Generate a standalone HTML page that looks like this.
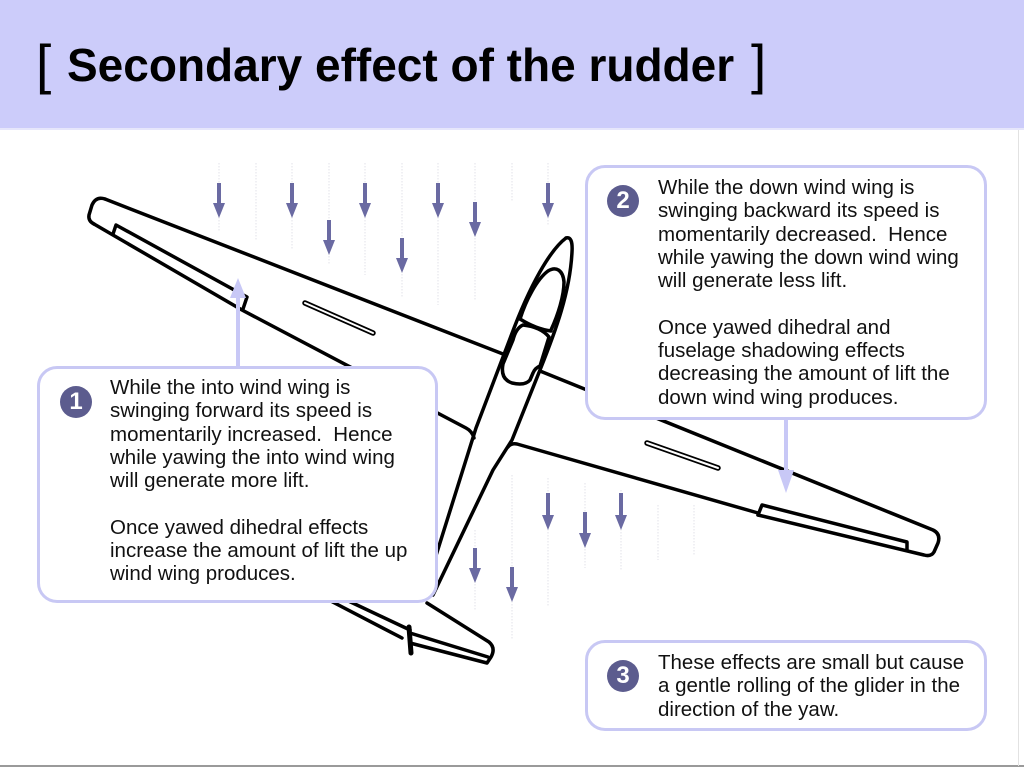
<!DOCTYPE html>
<html><head><meta charset="utf-8">
<style>
html,body{margin:0;padding:0;}
body{width:1024px;height:768px;position:relative;overflow:hidden;background:#fff;font-family:"Liberation Sans",Arial,sans-serif;}
.hdr{position:absolute;left:0;top:0;width:1024px;height:128px;background:#ccccfa;border-bottom:2px solid #e6e6fb;}
.title{position:absolute;left:67px;top:39px;font-size:46px;line-height:52px;font-weight:bold;color:#000;white-space:nowrap;}
.br{position:absolute;top:34px;font-size:55px;line-height:60px;color:#000;}
.box{position:absolute;background:#fff;border:3px solid #c8c8f4;border-radius:20px;box-sizing:border-box;}
.txt{position:absolute;font-size:20.5px;line-height:23.3px;white-space:nowrap;color:#111;}
.badge{position:absolute;width:32px;height:32px;border-radius:50%;background:#5c5c8e;color:#fff;font-weight:bold;font-size:24px;line-height:32px;text-align:center;}
svg{position:absolute;left:0;top:0;}
</style></head>
<body>
<div class="hdr"></div>
<div class="br" style="left:36px;">[</div>
<div class="title">Secondary effect of the rudder</div>
<div class="br" style="left:751px;">]</div>

<svg width="1024" height="768" viewBox="0 0 1024 768">
 <!-- wind dotted lines -->
 <g stroke="#e2e2e8" stroke-width="1" stroke-dasharray="1.5,1.5">
  <line x1="219" y1="163" x2="219" y2="232"/>
  <line x1="256" y1="163" x2="256" y2="240"/>
  <line x1="292" y1="163" x2="292" y2="250"/>
  <line x1="329" y1="163" x2="329" y2="265"/>
  <line x1="365" y1="163" x2="365" y2="275"/>
  <line x1="402" y1="163" x2="402" y2="298"/>
  <line x1="438" y1="163" x2="438" y2="305"/>
  <line x1="475" y1="163" x2="475" y2="300"/>
  <line x1="512" y1="163" x2="512" y2="202"/>
  <line x1="548" y1="163" x2="548" y2="225"/>
  <line x1="475" y1="530" x2="475" y2="610"/>
  <line x1="512" y1="475" x2="512" y2="640"/>
  <line x1="548" y1="478" x2="548" y2="607"/>
  <line x1="585" y1="483" x2="585" y2="568"/>
  <line x1="621" y1="490" x2="621" y2="570"/>
  <line x1="658" y1="505" x2="658" y2="560"/>
  <line x1="694" y1="505" x2="694" y2="555"/>
 </g>
 <!-- wind arrows -->
 <g fill="#6a6aa2">
  <rect x="217" y="183" width="4" height="21"/><polygon points="213,203 225,203 219,218"/>
  <rect x="290" y="183" width="4" height="21"/><polygon points="286,203 298,203 292,218"/>
  <rect x="327" y="220" width="4" height="21"/><polygon points="323,240 335,240 329,255"/>
  <rect x="363" y="183" width="4" height="21"/><polygon points="359,203 371,203 365,218"/>
  <rect x="400" y="238" width="4" height="21"/><polygon points="396,258 408,258 402,273"/>
  <rect x="436" y="183" width="4" height="21"/><polygon points="432,203 444,203 438,218"/>
  <rect x="473" y="202" width="4" height="21"/><polygon points="469,222 481,222 475,237"/>
  <rect x="546" y="183" width="4" height="21"/><polygon points="542,203 554,203 548,218"/>
  <rect x="473" y="548" width="4" height="21"/><polygon points="469,568 481,568 475,583"/>
  <rect x="510" y="567" width="4" height="21"/><polygon points="506,587 518,587 512,602"/>
  <rect x="546" y="493" width="4" height="23"/><polygon points="542,515 554,515 548,530"/>
  <rect x="583" y="512" width="4" height="22"/><polygon points="579,533 591,533 585,548"/>
  <rect x="619" y="493" width="4" height="23"/><polygon points="615,515 627,515 621,530"/>
 </g>
 <!-- glider -->
 <g fill="none" stroke="#000" stroke-width="3.5" stroke-linejoin="round" stroke-linecap="round">
  <path d="M105,199 L503,354"/>
  <path d="M105,199 Q96,196 92,205 L89,215 Q88,221 94,224"/>
  <path d="M94,224 L242,310 L466,428 Q472,431 474,438"/>
  <path d="M113,234 L116,225 L247,297 L243,309"/>
  <path d="M540,371 L933,530 Q941,534 938,543 L934,552 Q931,557 924,555 L758,515"/>
  <path d="M508,447 Q511,443 517,444 L758,513"/>
  <path d="M758,515 L762,505 L907,542 L907,549"/>
  <path d="M566,238 C550,250 530,285 511,336 L476,428 L423,597"/>
  <path d="M566,238 Q573,236 572,252 C570,292 556,330 540,370 L512,440 L493,470 L433,595"/>
  <path d="M520,319 C526,300 537,279 548,271 C556,266 563,270 564,282 C564,296 558,315 551,330"/>
  <path d="M520,319 Q536,329 551,331"/>
  <path d="M523,325 Q541,327 549,337 L540,366 Q535,368 533,373 L530,380 Q525,386 512,383 Q500,379 503,364 L513,340 Q516,328 523,325 Z"/>
  <path d="M325,598 L402,638"/>
  <path d="M340,597 L410,630"/>
  <path d="M427,603 L489,642 Q496,648 491,657 L487,663 L410,643"/>
  <path d="M410,633 L488,657"/>
  <path d="M409,627 L411,653" stroke-width="5"/>
 </g>
 <!-- airbrakes -->
 <g stroke-linecap="round">
  <line x1="305" y1="303" x2="373" y2="333" stroke="#000" stroke-width="5.5"/>
  <line x1="305" y1="303" x2="373" y2="333" stroke="#fff" stroke-width="2"/>
  <line x1="647" y1="443" x2="718" y2="468" stroke="#000" stroke-width="5.5"/>
  <line x1="647" y1="443" x2="718" y2="468" stroke="#fff" stroke-width="2"/>
 </g>
</svg>

<div class="box" style="left:37px;top:366px;width:401px;height:237px;"></div>
<div class="box" style="left:585px;top:165px;width:402px;height:255px;"></div>
<div class="box" style="left:585px;top:640px;width:402px;height:91px;"></div>

<svg width="1024" height="768" viewBox="0 0 1024 768">
 <g fill="#c8c8f6">
  <rect x="236" y="296" width="4" height="71"/>
  <polygon points="230,298 246,298 238,278"/>
  <rect x="784" y="419" width="4" height="53"/>
  <polygon points="778,470 794,470 786,493"/>
 </g>
 <rect x="0" y="765" width="1024" height="2" fill="#9a9a9a"/>
 <rect x="1018" y="130" width="1" height="636" fill="#e2e2e2"/>
</svg>

<div class="badge" style="left:60px;top:386px;">1</div>
<div class="txt" style="left:110px;top:376px;">While the into wind wing is<br>swinging forward its speed is<br>momentarily increased.&nbsp; Hence<br>while yawing the into wind wing<br>will generate more lift.<br><br>Once yawed dihedral effects<br>increase the amount of lift the up<br>wind wing produces.</div>

<div class="badge" style="left:607px;top:185px;">2</div>
<div class="txt" style="left:658px;top:176px;">While the down wind wing is<br>swinging backward its speed is<br>momentarily decreased.&nbsp; Hence<br>while yawing the down wind wing<br>will generate less lift.<br><br>Once yawed dihedral and<br>fuselage shadowing effects<br>decreasing the amount of lift the<br>down wind wing produces.</div>

<div class="badge" style="left:607px;top:660px;">3</div>
<div class="txt" style="left:658px;top:651px;">These effects are small but cause<br>a gentle rolling of the glider in the<br>direction of the yaw.</div>
</body></html>
